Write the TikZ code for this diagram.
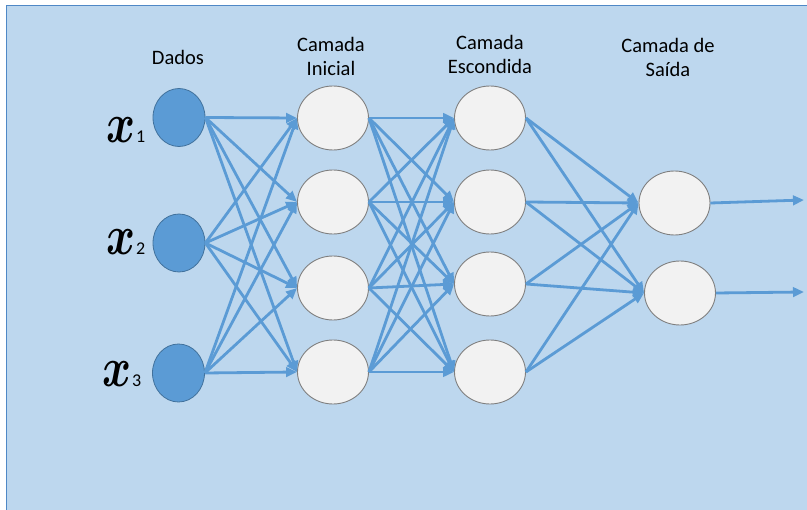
\documentclass[tikz,border=0pt]{standalone}
\usepackage{graphicx}
\usepackage{fontspec}
\setmainfont{Carlito}
\usetikzlibrary{arrows.meta,shapes.geometric}
\definecolor{bg}{HTML}{BDD7EE}
\definecolor{frame}{HTML}{4F88C6}
\definecolor{link}{HTML}{5B9BD5}
\definecolor{infill}{HTML}{5B9BD5}
\definecolor{inedge}{HTML}{41719C}
\definecolor{cellfill}{HTML}{F2F2F2}
\definecolor{celledge}{HTML}{7F7F7F}
\newcommand{\varx}[1]{\scalebox{4.4}[5.6]{\boldmath$x$}\hspace{1pt}{\fontsize{18}{18}\selectfont #1}}
\begin{document}
\begin{tikzpicture}[x=1pt,y=-1pt,
  inputnode/.style={ellipse, fill=infill, draw=inedge, line width=0.8pt,
    minimum width=52pt, minimum height=58pt, inner sep=0pt},
  cell/.style={ellipse, fill=cellfill, draw=celledge, line width=0.9pt,
    minimum width=71pt, minimum height=64pt, inner sep=0pt},
  link/.style={draw=link, line width=2.8pt, -{Triangle[length=11pt,width=9.5pt]}},
  title/.style={font=\fontsize{20.5}{24}\selectfont, align=center, text=black},
  varname/.style={anchor=base west, inner sep=0pt, text=black},
]
\useasboundingbox (0,0) rectangle (807,510);
% slide background
\draw[fill=bg, draw=frame, line width=0.8pt] (6,5) rectangle (820,520);

% layer titles
\node[title] (tD) at (178,57) {Dados};
\node[title] (tI) at (331,56) {Camada\\Inicial};
\node[title] (tE) at (490,54) {Camada\\Escondida};
\node[title] (tS) at (668,57) {Camada de\\Saída};

% input layer
\node[inputnode] (d1) at (179,117.5) {};
\node[inputnode] (d2) at (179,243) {};
\node[inputnode] (d3) at (178.5,373) {};

% input variable names
\node[varname] (x1) at (106,143) {\varx{1}};
\node[varname] (x2) at (106,255) {\varx{2}};
\node[varname] (x3) at (102,387) {\varx{3}};

% initial layer
\node[cell] (i1) at (333,118) {};
\node[cell] (i2) at (333,202) {};
\node[cell] (i3) at (333,288) {};
\node[cell] (i4) at (333,372) {};

% hidden layer
\node[cell] (h1) at (490,118) {};
\node[cell] (h2) at (490,202) {};
\node[cell] (h3) at (490,284) {};
\node[cell] (h4) at (490,372) {};

% output layer
\node[cell] (o1) at (674.5,203) {};
\node[cell] (o2) at (680,293) {};

\coordinate (e1) at (804,200);
\coordinate (e2) at (804,292);

% connections
\foreach \a in {1,2,3}
  \foreach \b in {1,2,3,4}
    \draw[link] (d\a.east) -- (i\b.west);
\foreach \a in {1,2,3,4}
  \foreach \b in {1,2,3,4}
    \draw[link] (i\a.east) -- (h\b.west);
\foreach \a in {1,2,3,4}
  \foreach \b in {1,2}
    \draw[link] (h\a.east) -- (o\b.west);
\draw[link] (o1.east) -- (e1);
\draw[link] (o2.east) -- (e2);
\end{tikzpicture}
\end{document}
